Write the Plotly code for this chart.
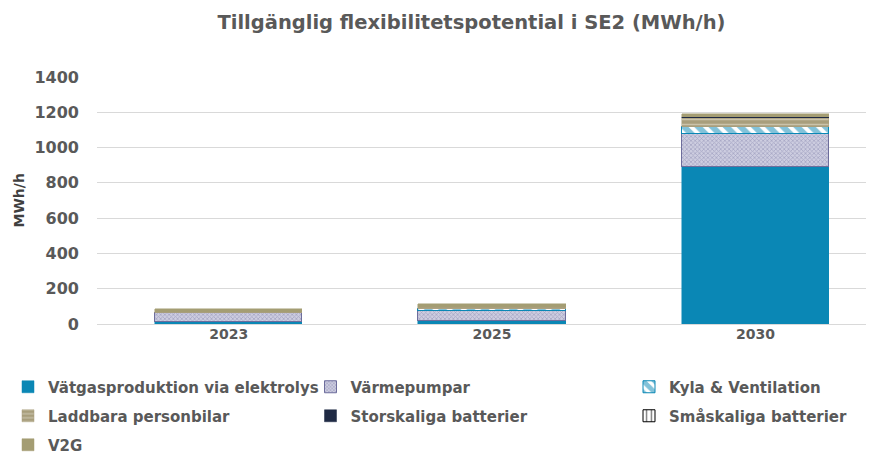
import plotly.graph_objects as go

years = ["2023", "2025", "2030"]
vatgas = [10, 17, 892]
varmepumpar = [50, 58, 184]
kyla = [5, 10, 40]
laddbara = [5, 12, 50]
storskaliga = [0, 0, 8]
smaskaliga = [0, 0, 2]
v2g = [15, 15, 14]

y_ticks = [0, 200, 400, 600, 800, 1000, 1200, 1400]

FONT = "DejaVu Sans"
GREY = "#595959"

# The page body has an 8px margin, so the figure is drawn 8px smaller and offset.
W, H = 866, 450
ML, MT = 89, 69
PLOT_BOTTOM = 316.4
MB = H - PLOT_BOTTOM

series = [
    dict(name="Vätgasproduktion via elektrolys", y=vatgas, legend="legend",
         marker=dict(color="#0a87b5", line=dict(color="#0a87b5", width=0.5))),
    dict(name="Värmepumpar", y=varmepumpar, legend="legend2",
         marker=dict(color="#c4c4d8", line=dict(color="#6d6d9c", width=1),
                     pattern=dict(shape="x", fgcolor="#7f7fa8", bgcolor="#cdcde0", size=3, solidity=0.45))),
    dict(name="Kyla & Ventilation", y=kyla, legend="legend3",
         marker=dict(color="white", line=dict(color="#0a87b5", width=1),
                     pattern=dict(shape="\\", fgcolor="#0585b3", bgcolor="white", size=10, solidity=0.6))),
    dict(name="Laddbara personbilar", y=laddbara, legend="legend",
         marker=dict(color="#a89e7c", line=dict(color="#a89e7c", width=0.5),
                     pattern=dict(shape="-", fgcolor="#ece8da", bgcolor="#a89e7c", size=5, solidity=0.3))),
    dict(name="Storskaliga batterier", y=storskaliga, legend="legend2",
         marker=dict(color="#1f2a44", line=dict(color="#1f2a44", width=0.5))),
    dict(name="Småskaliga batterier", y=smaskaliga, legend="legend3",
         marker=dict(color="white", line=dict(color="#000000", width=1),
                     pattern=dict(shape="|", fgcolor="#000000", bgcolor="white", size=6, solidity=0.3))),
    dict(name="V2G", y=v2g, legend="legend",
         marker=dict(color="#a49d73", line=dict(color="#a49d73", width=0.5))),
]

fig = go.Figure()
for i, s in enumerate(series):
    fig.add_trace(go.Bar(x=years, y=s["y"], name=s["name"], marker=s["marker"],
                         legend=s["legend"], legendgroup=f"g{i}", width=0.56))

plot_w = W - ML
legend_common = dict(
    xref="paper", yref="container", xanchor="left", yanchor="top",
    orientation="v", font=dict(family=FONT, size=15, color=GREY, weight="bold"),
    bgcolor="rgba(0,0,0,0)", tracegroupgap=6.5, itemclick=False,
)
leg_y = 1 - 362.5 / H

def px_to_paper(px):
    return (px - ML) / plot_w

fig.update_layout(
    width=W, height=H,
    margin=dict(l=ML, r=0, t=MT, b=MB, autoexpand=False),
    paper_bgcolor="white", plot_bgcolor="white",
    barmode="stack", bargap=0,
    title=dict(text="Tillgänglig flexibilitetspotential i SE2 (MWh/h)",
               xref="container", x=463.5 / W, xanchor="center",
               yref="container", y=1 - 14 / H, yanchor="middle",
               font=dict(family=FONT, size=19.5, color=GREY, weight="bold")),
    xaxis=dict(type="category", range=[-0.5, 2.45], showgrid=False,
               showline=False, ticks="",
               tickfont=dict(family=FONT, size=14, color=GREY, weight="bold")),
    yaxis=dict(range=[0, 1400], tickvals=y_ticks, showgrid=True, gridcolor="#d9d9d9",
               gridwidth=1, zeroline=True, zerolinecolor="#d9d9d9", zerolinewidth=1,
               ticks="", ticklabelstandoff=17,
               tickfont=dict(family=FONT, size=16, color=GREY, weight="bold")),
    legend=dict(x=px_to_paper(0), y=leg_y, **legend_common),
    legend2=dict(x=px_to_paper(302.5), y=leg_y, **legend_common),
    legend3=dict(x=px_to_paper(621), y=leg_y, **legend_common),
    showlegend=True,
    annotations=[dict(text="MWh/h", textangle=-90, showarrow=False,
                      xref="paper", x=px_to_paper(10), xanchor="center",
                      yref="paper", y=0.5, yanchor="middle",
                      font=dict(family=FONT, size=14, color="#404040", weight="bold"))],
)

fig.write_html("out.html")
